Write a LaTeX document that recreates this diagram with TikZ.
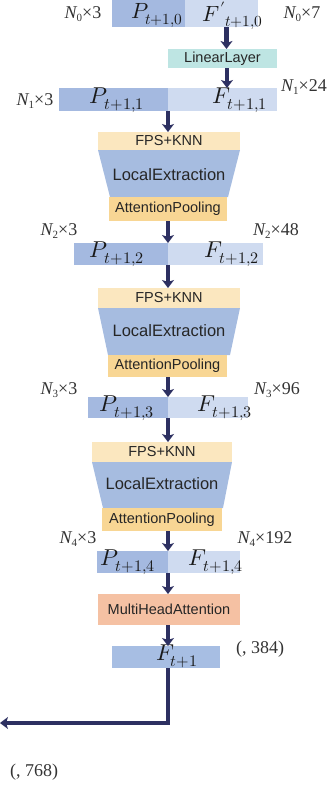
\documentclass[tikz,border=0pt]{standalone}
\usepackage{fontspec}
\usepackage{unicode-math}
\setmainfont{Liberation Serif}
\setsansfont{Liberation Sans}
\setmathfont{Latin Modern Math}
\usetikzlibrary{arrows.meta,calc}

\definecolor{pdark}{HTML}{A4B9E0}
\definecolor{plight}{HTML}{CFDBF0}
\definecolor{linfill}{HTML}{BEE5E3}
\definecolor{fpsfill}{HTML}{FBE7BF}
\definecolor{lefill}{HTML}{A6BCE0}
\definecolor{apfill}{HTML}{F8D694}
\definecolor{mhafill}{HTML}{F5C1A3}
\definecolor{ffill}{HTML}{A7BEE3}
\definecolor{navy}{HTML}{2D3061}
\definecolor{txt}{HTML}{262626}
\definecolor{lbl}{HTML}{333333}

% block with north-west corner (#3,#4) and south-east corner (#5,#6)
\newcommand\blk[7]{\node[#2, anchor=north west, minimum width={(#5)-(#3)}, minimum height={(#6)-(#4)}] (#1) at (#3,#4) {#7};}
\newcommand\dimlbl[2]{{\itshape N}\raisebox{-0.35ex}{\fontsize{11}{12}\selectfont #1}×#2}

\begin{document}
\begin{tikzpicture}[x=1pt,y=-1pt,
  blkbase/.style={inner sep=0pt, outer sep=0pt, draw=none},
  pcell/.style={blkbase, fill=pdark},
  fcell/.style={blkbase, fill=plight},
  sanstxt/.style={font=\sffamily\fontsize{14.5}{16}\selectfont, text=txt},
  linbox/.style={blkbase, sanstxt, fill=linfill},
  fpsbox/.style={blkbase, sanstxt, fill=fpsfill},
  apbox/.style={blkbase, sanstxt, fill=apfill},
  mhabox/.style={blkbase, sanstxt, fill=mhafill},
  outbox/.style={blkbase, fill=ffill},
  letxt/.style={inner sep=0pt, font=\sffamily\fontsize{16.5}{18}\selectfont, text=txt},
  mtxt/.style={inner sep=0pt, font=\fontsize{23}{26}\selectfont, text=black!90},
  dimtxt/.style={inner sep=0pt, font=\fontsize{18}{20}\selectfont, text=lbl},
  arr/.style={draw=navy, line width=4.5pt, -{Stealth[length=8pt,width=12pt,inset=2pt]}},
]
\useasboundingbox (0,0) rectangle (330,787);

% ---- input features ----
\blk{b1p}{pcell}{112}{0}{185}{27}{}
\blk{b1f}{fcell}{185}{0}{258}{27}{}
\node[mtxt, font=\fontsize{22}{24}\selectfont] (b1pt) at (157,15.5) {$P_{t+1,0}$};
\node[mtxt, font=\fontsize{22}{24}\selectfont] (b1ft) at (233,15.5) {${F'}_{t+1,0}$};
\node[dimtxt] (d0a) at (83,14) {\dimlbl{0}{3}};
\node[dimtxt] (d0b) at (302,14) {\dimlbl{0}{7}};

\blk{ll}{linbox}{168}{49}{277}{68}{LinearLayer}

% ---- level 1 ----
\blk{b2p}{pcell}{59}{88}{168}{111}{}
\blk{b2f}{fcell}{168}{88}{277}{111}{}
\node[mtxt] (b2pt) at (117,100) {$P_{t+1,1}$};
\node[mtxt] (b2ft) at (240,100) {$F_{t+1,1}$};
\node[dimtxt] (d1a) at (35,101) {\dimlbl{1}{3}};
\node[dimtxt] (d1b) at (304,87) {\dimlbl{1}{24}};

% ---- set abstraction 1 ----
\blk{fps1}{fpsbox}{98}{132}{240}{150}{FPS+KNN}
\fill[lefill] (98,150) -- (240,150) -- (228,197) -- (110,197) -- cycle;
\node[letxt] (le1) at (169,175) {LocalExtraction};
\blk{ap1}{apbox}{109}{197}{227}{221}{AttentionPooling}

% ---- level 2 ----
\blk{b3p}{pcell}{74}{243}{168}{265}{}
\blk{b3f}{fcell}{168}{243}{263}{265}{}
\node[mtxt] (b3pt) at (117,254) {$P_{t+1,2}$};
\node[mtxt] (b3ft) at (232,254) {$F_{t+1,2}$};
\node[dimtxt] (d2a) at (59,231) {\dimlbl{2}{3}};
\node[dimtxt] (d2b) at (276,231) {\dimlbl{2}{48}};

% ---- set abstraction 2 ----
\blk{fps2}{fpsbox}{98}{288}{240}{308}{FPS+KNN}
\fill[lefill] (98,308) -- (240,308) -- (230,355) -- (108,355) -- cycle;
\node[letxt] (le2) at (169,331) {LocalExtraction};
\blk{ap2}{apbox}{108}{355}{227}{377}{AttentionPooling}

% ---- level 3 ----
\blk{b4p}{pcell}{88}{397}{168}{418}{}
\blk{b4f}{fcell}{168}{397}{248}{418}{}
\node[mtxt] (b4pt) at (127,408) {$P_{t+1,3}$};
\node[mtxt] (b4ft) at (225,408) {$F_{t+1,3}$};
\node[dimtxt] (d3a) at (59,390) {\dimlbl{3}{3}};
\node[dimtxt] (d3b) at (277,390) {\dimlbl{3}{96}};

% ---- set abstraction 3 ----
\blk{fps3}{fpsbox}{92}{442}{232}{462}{FPS+KNN}
\fill[lefill] (92,462) -- (232,462) -- (223,508) -- (103,508) -- cycle;
\node[letxt] (le3) at (162,484) {LocalExtraction};
\blk{ap3}{apbox}{102}{508}{222}{531}{AttentionPooling}

% ---- level 4 ----
\blk{b5p}{pcell}{97}{551}{168}{573}{}
\blk{b5f}{fcell}{168}{551}{240}{573}{}
\node[mtxt] (b5pt) at (128,562) {$P_{t+1,4}$};
\node[mtxt] (b5ft) at (216,562) {$F_{t+1,4}$};
\node[dimtxt] (d4a) at (78,539) {\dimlbl{4}{3}};
\node[dimtxt] (d4b) at (265,539) {\dimlbl{4}{192}};

% ---- attention and output ----
\blk{mha}{mhabox}{98}{594}{240}{625}{MultiHeadAttention}
\blk{out}{outbox}{112}{646}{220}{668}{}
\node[mtxt] (outt) at (177,656) {$F_{t+1}$};
\node[dimtxt] (d5) at (260,649) {(, 384)};
\node[dimtxt] (d6) at (34,772) {(, 768)};
\coordinate (exit) at (0,723);
\coordinate (trunk) at (b5f.south west |- out.south);

% ---- connectors ----
\draw[arr] ([xshift=5pt]b1f.south) -- ([xshift=5pt]b1f.south |- ll.north);
\draw[arr] ([xshift=4.5pt]ll.south) -- ([xshift=4.5pt]ll.south |- b2f.north);
\draw[arr] (b2f.south west) -- (b2f.south west |- fps1.north);
\draw[arr] (ap1.south -| b3f.north west) -- (b3f.north west);
\draw[arr] (b3f.south west) -- (b3f.south west |- fps2.north);
\draw[arr] (ap2.south -| b4f.north west) -- (b4f.north west);
\draw[arr] (b4f.south west) -- (b4f.south west |- fps3.north);
\draw[arr] (ap3.south -| b5f.north west) -- (b5f.north west);
\draw[arr] (b5f.south west) -- (b5f.south west |- mha.north);
\draw[arr] (mha.south -| b5f.south west) -- (out.north -| b5f.south west);
\draw[arr] (trunk) |- (exit);
\end{tikzpicture}
\end{document}
